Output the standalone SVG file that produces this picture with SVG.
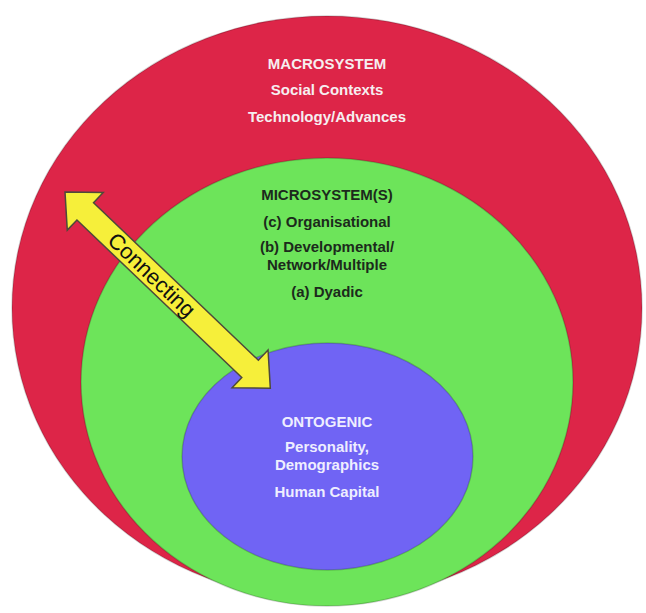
<svg xmlns="http://www.w3.org/2000/svg" width="646" height="613" viewBox="0 0 646 613">
  <style>
    .lbl { font-family: "Liberation Sans", Arial, sans-serif; font-weight: bold; font-size: 15px; text-anchor: middle; }
    .macro-t { fill: #f6eef0; }
    .micro-t { fill: #1c2a1c; }
    .onto-t { fill: #eeeeff; }
    .ring { stroke: #000000; stroke-opacity: 0.18; stroke-width: 1.5; }
    .arrow { fill: #f6ef3a; stroke: #4e4a3a; stroke-width: 1.5; stroke-linejoin: miter; }
    .arrow-t { font-family: "Liberation Sans", Arial, sans-serif; font-size: 22px; fill: #111111; text-anchor: middle; }
  </style>
  <rect width="646" height="613" fill="#ffffff"/>
  <g id="macrosystem">
    <ellipse class="ring" cx="327" cy="308" rx="315" ry="292" fill="#dd2548"/>
    <text class="lbl macro-t" x="327" y="69">MACROSYSTEM</text>
    <text class="lbl macro-t" x="327" y="95">Social Contexts</text>
    <text class="lbl macro-t" x="327" y="122">Technology/Advances</text>
  </g>
  <g id="microsystems">
    <ellipse class="ring" cx="327" cy="382" rx="246" ry="224" fill="#6de45a"/>
    <text class="lbl micro-t" x="327" y="200">MICROSYSTEM(S)</text>
    <text class="lbl micro-t" x="327" y="227">(c) Organisational</text>
    <text class="lbl micro-t" x="327" y="252">(b) Developmental/</text>
    <text class="lbl micro-t" x="327" y="270">Network/Multiple</text>
    <text class="lbl micro-t" x="327" y="297">(a) Dyadic</text>
  </g>
  <g id="ontogenic">
    <ellipse class="ring" cx="327.5" cy="456.5" rx="145.5" ry="113.5" fill="#7064f4"/>
    <text class="lbl onto-t" x="327" y="427">ONTOGENIC</text>
    <text class="lbl onto-t" x="327" y="452">Personality,</text>
    <text class="lbl onto-t" x="327" y="470">Demographics</text>
    <text class="lbl onto-t" x="327" y="497">Human Capital</text>
  </g>
  <g id="connectors">
    <g transform="translate(65,192) rotate(43.7)">
      <polygon class="arrow" points="0,0 28,-26 28,-12 256,-12 256,-26 284,0 256,26 256,12 28,12 28,26"/>
      <text class="arrow-t" x="120" y="7.5">Connecting</text>
    </g>
  </g>
</svg>
